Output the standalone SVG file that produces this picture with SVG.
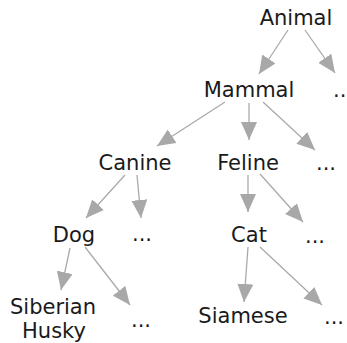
<svg xmlns="http://www.w3.org/2000/svg" width="347" height="343" viewBox="0 0 347 343">
<style>
text{font-family:"DejaVu Sans","Liberation Sans",sans-serif;font-size:21px;fill:#1a1a1a;text-anchor:middle}
.c line{stroke:#aaaaaa;stroke-width:1.3;marker-end:url(#ah)}
</style>
<defs>
<marker id="ah" markerUnits="userSpaceOnUse" markerWidth="19" markerHeight="16" refX="18" refY="8" orient="auto">
<path d="M0,0 L18,8 L0,16 z" fill="#a8a8a8"/>
</marker>
</defs>
<rect width="347" height="343" fill="#ffffff"/>
<g class="c" id="connectors">
<line x1="288" y1="30" x2="259" y2="74"/>
<line x1="305" y1="30" x2="335" y2="73"/>
<line x1="225" y1="102" x2="157" y2="146"/>
<line x1="249" y1="103" x2="249" y2="140"/>
<line x1="263" y1="102" x2="315" y2="150"/>
<line x1="125" y1="175" x2="86" y2="218"/>
<line x1="137" y1="175" x2="141" y2="218"/>
<line x1="248" y1="175" x2="248" y2="212"/>
<line x1="260" y1="174" x2="303" y2="222"/>
<line x1="70" y1="248" x2="61" y2="290"/>
<line x1="85" y1="247" x2="130" y2="305"/>
<line x1="248" y1="247" x2="244" y2="302"/>
<line x1="260" y1="247" x2="322" y2="305"/>
</g>
<g id="animal"><text x="296" y="25">Animal</text></g>
<g id="mammal"><text x="249" y="97">Mammal</text></g>
<g id="animal-more"><text x="333" y="97" style="text-anchor:start">..</text></g>
<g id="canine"><text x="135" y="170">Canine</text></g>
<g id="feline"><text x="248" y="170">Feline</text></g>
<g id="mammal-more"><text x="326" y="170">...</text></g>
<g id="dog"><text x="74" y="242">Dog</text></g>
<g id="canine-more"><text x="142" y="241">...</text></g>
<g id="cat"><text x="249" y="242">Cat</text></g>
<g id="feline-more"><text x="315" y="243">...</text></g>
<g id="husky"><text x="53" y="314">Siberian</text><text x="54" y="338">Husky</text></g>
<g id="dog-more"><text x="141" y="327">...</text></g>
<g id="siamese"><text x="243" y="323">Siamese</text></g>
<g id="cat-more"><text x="334" y="324">...</text></g>
</svg>
